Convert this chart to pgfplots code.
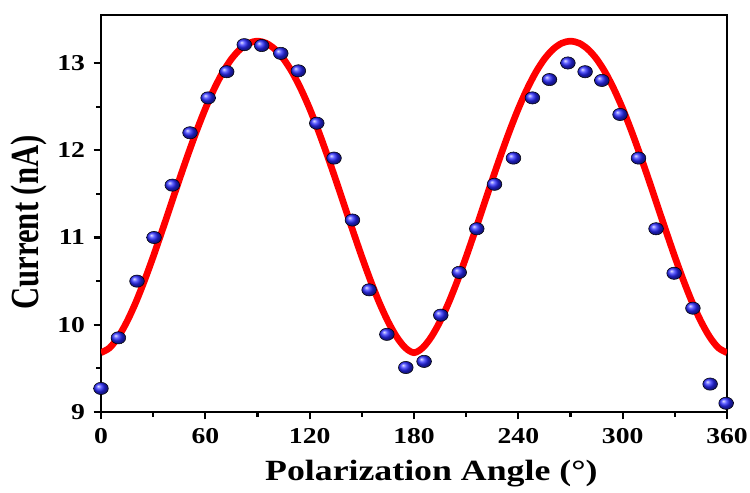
\documentclass[border=0pt]{standalone}
\usepackage{pgfplots}
\pgfplotsset{compat=1.18}
\usepackage{fontspec}
\setmainfont{Liberation Serif}[FakeStretch=1.22]
\newfontfamily\ylfont{Liberation Serif}
\definecolor{sphereblue}{RGB}{40,40,255}

% measured points (blue spheres)
\pgfplotstableread{
x y
0 9.27
10 9.85
20.7 10.50
30.5 11.00
41.0 11.60
51.2 12.20
61.6 12.60
72.3 12.90
82.4 13.21
92.4 13.20
103.4 13.11
113.5 12.91
124.1 12.31
134.0 11.91
144.6 11.20
154.2 10.40
164.4 9.89
175.3 9.51
185.8 9.58
195.4 10.11
206.0 10.60
216.1 11.10
226.3 11.61
237.2 11.91
248.1 12.60
257.9 12.81
268.5 13.00
278.4 12.90
288.0 12.80
298.5 12.41
309.1 11.91
319.2 11.10
329.6 10.59
340.4 10.19
350.3 9.32
359.5 9.10
}\measured

% fitted curve
\pgfplotstableread{
x y
0 9.680
5 9.736
10 9.862
15 10.039
20 10.256
25 10.506
30 10.779
35 11.068
40 11.364
45 11.661
50 11.949
55 12.223
60 12.476
65 12.700
70 12.892
75 13.046
80 13.158
85 13.227
90 13.250
95 13.227
100 13.158
105 13.046
110 12.892
115 12.700
120 12.476
125 12.223
130 11.949
135 11.661
140 11.364
145 11.068
150 10.779
155 10.506
160 10.256
165 10.039
170 9.862
175 9.736
180 9.680
185 9.736
190 9.862
195 10.039
200 10.256
205 10.506
210 10.779
215 11.068
220 11.364
225 11.661
230 11.949
235 12.223
240 12.476
245 12.700
250 12.892
255 13.046
260 13.158
265 13.227
270 13.250
275 13.227
280 13.158
285 13.046
290 12.892
295 12.700
300 12.476
305 12.223
310 11.949
315 11.661
320 11.364
325 11.068
330 10.779
335 10.506
340 10.256
345 10.039
350 9.862
355 9.736
360 9.680
}\fitted

\begin{document}
\begin{tikzpicture}
\begin{axis}[
  scale only axis,
  width=469.5pt, height=297.75pt,
  xmin=0, xmax=360, ymin=9, ymax=13.55,
  xtick={0,60,...,360}, ytick={9,10,11,12,13},
  minor x tick num=1, minor y tick num=1,
  xtick pos=bottom, ytick pos=left,
  tick align=outside,
  major tick length=5.5pt, minor tick length=3.5pt,
  every tick/.style={black, line width=1.6pt},
  axis line style={line width=2pt},
  /pgf/number format/assume math mode=true,
  tick label style={font=\fontsize{17}{17}\selectfont\bfseries},
  xticklabel style={yshift=-3pt},
  yticklabel style={xshift=-3pt},
  xlabel={Polarization Angle (°)},
  ylabel={\scalebox{1}[1.3]{\ylfont\bfseries Current (nA)}},
  xlabel style={font=\fontsize{22}{22}\selectfont\bfseries,
    at={(rel axis cs:0.5,0)}, anchor=north, inner sep=0pt,
    xshift=13pt, yshift=-36pt},
  ylabel style={font=\fontsize{23}{23}\selectfont,
    at={(rel axis cs:0,0.5)}, anchor=center, inner sep=0pt,
    yshift=54pt, xshift=-6.75pt},
]
\addplot[red, line width=5pt, smooth, no marks] table[x=x, y=y] {\fitted};
\addplot[only marks, mark=ball, mark size=4.6pt,
  mark options={ball color=sphereblue, xscale=1.2}] table[x=x, y=y] {\measured};
\end{axis}
\pgfresetboundingbox
\path ([xshift=-75.75pt, yshift=-60pt]current axis.south west)
  rectangle ([xshift=17.25pt, yshift=11.25pt]current axis.north east);
\end{tikzpicture}
\end{document}
